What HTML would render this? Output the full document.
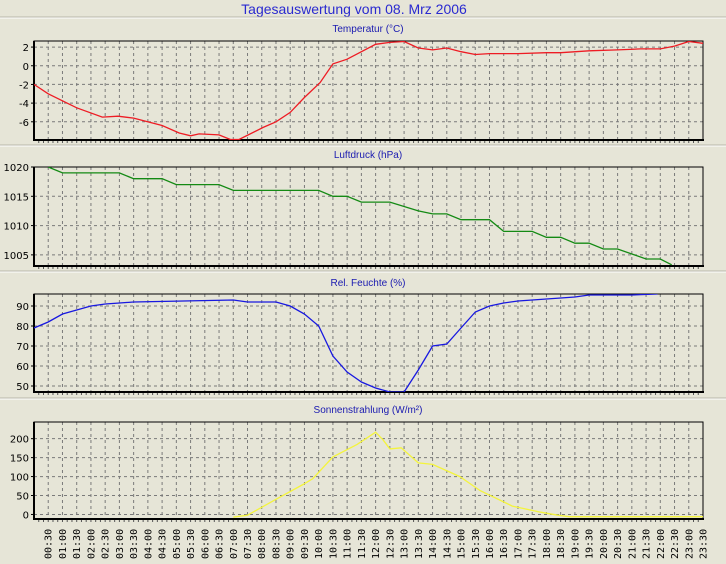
<!DOCTYPE html>
<html><head><meta charset="utf-8"><style>
html,body{margin:0;padding:0;background:#e6e5d7;}
svg{display:block;font-family:"Liberation Sans",sans-serif;}
</style></head><body>
<svg id="chart" width="726" height="564" viewBox="0 0 726 564" xmlns="http://www.w3.org/2000/svg">
<rect x="0" y="0" width="726" height="564" fill="#e6e5d7"/>
<text x="354" y="14" font-size="14" fill="#2a2ad0" text-anchor="middle">Tagesauswertung vom 08. Mrz 2006</text>
</svg>
<script>
// ---- data ----
const tempT = [0,0.5,1.5,2.4,2.95,3.5,4.5,5.1,5.5,5.8,6.5,6.9,7.2,8.05,8.5,9.0,9.5,10.05,10.5,11,12,12.5,13,13.5,14,14.5,15,15.5,16,17,18,18.5,19.5,20.5,21.3,22,22.5,23,23.5];
const tempV = [-2,-3.0,-4.5,-5.5,-5.4,-5.6,-6.4,-7.2,-7.5,-7.3,-7.4,-7.9,-7.9,-6.6,-6.0,-5.0,-3.4,-1.8,0.2,0.7,2.3,2.5,2.6,1.9,1.7,1.9,1.5,1.2,1.3,1.3,1.4,1.4,1.6,1.7,1.8,1.8,2.1,2.6,2.4];
const presT = [0.5,1.0,3.0,3.5,4.5,5.0,6.5,7.0,10.0,10.5,11.0,11.5,12.5,13.5,14.0,14.5,15.0,16.0,16.5,17.5,18.0,18.5,19.0,19.5,20.0,20.5,21.5,22.0,22.4];
const presV = [1020,1019,1019,1018,1018,1017,1017,1016,1016,1015,1015,1014,1014,1012.5,1012,1012,1011,1011,1009,1009,1008,1008,1007,1007,1006,1006,1004.3,1004.3,1003.3];
const humT = [0,0.5,1,1.5,2,2.5,3,3.5,7,7.5,8.5,9,9.5,10,10.5,11,11.5,12,12.5,13,13.5,14,14.5,15,15.5,16,16.5,17,17.5,18,18.5,19,19.5,21,21.9];
const humV = [79,82,86,88,90,91,91.5,92,93,92,92,90,86,80,65,57,52,49,47,47,58,70,71,79,87,90,91.5,92.5,93,93.5,94,94.5,95.5,95.5,96];
const solT = [0,7.0,7.5,8.5,9.45,9.8,10.5,11.35,12.0,12.26,12.5,12.9,13.5,14.0,14.96,15.67,16.8,17.8,18.4,18.8,23.5];
const solV = [null,-7,-2,40,79,95,152,185,217,197,173,176,136,132,100,63,22,6,-2,-6,-6];
const panels = [
 {name:'temperature', title:'Temperatur (°C)', top:41, bottom:140, vTop:2.65, vBot:-7.95, ticks:[2,0,-2,-4,-6], t:tempT, v:tempV, color:'#ee1c24', ty:32},
 {name:'pressure', title:'Luftdruck (hPa)', top:167, bottom:266, vTop:1020, vBot:1003.1, ticks:[1020,1015,1010,1005], t:presT, v:presV, color:'#148a14', ty:158},
 {name:'humidity', title:'Rel. Feuchte (%)', top:294, bottom:392, vTop:96, vBot:47, ticks:[90,80,70,60,50], t:humT, v:humV, color:'#1818e0', ty:286},
 {name:'solar', title:'Sonnenstrahlung (W/m²)', top:422, bottom:519, vTop:244, vBot:-12, ticks:[200,150,100,50,0], t:solT, v:solV, color:'#f4f43c', ty:413}
];
const X0=34, X1=703, TMAX=23.5;
const xs = t => X0 + t/TMAX*(X1-X0);
const NS='http://www.w3.org/2000/svg';
const svg=document.getElementById('chart');
function mk(tag, attrs, parent){const e=document.createElementNS(NS,tag);for(const k in attrs)e.setAttribute(k,attrs[k]);(parent||svg).appendChild(e);return e;}
[17,145,271,398].forEach(y=>{
 const l=mk('line',{x1:0,x2:726,y1:y,y2:y,stroke:'#b8b7a8','stroke-width':1});
 
 
 const l2=mk('line',{x1:0,x2:726,y1:y+1,y2:y+1,stroke:'#ffffff','stroke-width':1});
 
 
});
panels.forEach(p=>{
 const g=mk('g',{});
 
 
 const ys=v=>p.top+(p.vTop-v)/(p.vTop-p.vBot)*(p.bottom-p.top);
 const tt=mk('text',{x:368,y:p.ty,'font-size':10,fill:'#1a1ab0','text-anchor':'middle'},g);
 tt.textContent=p.title;
 
 
 for(let i=1;i<=46;i++){
  const x=xs(i*0.5);
  const gl=mk('line',{x1:x,x2:x,y1:p.top,y2:p.bottom,stroke:'#7a7a7a','stroke-width':1,'stroke-dasharray':'3,3'},g);
  
  
 }
 p.ticks.forEach(v=>{
  const y=ys(v);
  const gl=mk('line',{x1:X0,x2:X1,y1:y,y2:y,stroke:'#7a7a7a','stroke-width':1,'stroke-dasharray':'3,3'},g);
  
  
  const tk=mk('line',{x1:X0-3,x2:X0,y1:y,y2:y,stroke:'#000'},g);
  
  
  const lb=mk('text',{x:X0-5,y:y+4,'font-size':10,fill:'#000','text-anchor':'end','font-family':'"DejaVu Sans",sans-serif'},g);
  lb.textContent=v;
  
  
 });
 for(let i=1;i<141;i++){
  const x=xs(i/6);
  const mt=mk('line',{x1:x,x2:x,y1:p.bottom,y2:p.bottom+3,stroke:'#555','stroke-width':1},g);
  
  
 }
 const fr=mk('rect',{x:X0,y:p.top,width:X1-X0,height:p.bottom-p.top,fill:'none',stroke:'#000','stroke-width':1},g);
 
 
 const ax1=mk('line',{x1:X0,x2:X0,y1:p.top,y2:p.bottom+1,stroke:'#000','stroke-width':2},g);
 
 
 const ax2=mk('line',{x1:X0-1,x2:X1+1,y1:p.bottom,y2:p.bottom,stroke:'#000','stroke-width':2},g);
 
 
 let d='';let started=false;
 p.t.forEach((t,i)=>{
  const v=p.v[i];
  if(v===null){started=false;return;}
  d+=(started?'L':'M')+xs(t).toFixed(1)+','+ys(v).toFixed(1)+' ';started=true;
 });
 const cp=mk('clipPath',{id:'clip-'+p.name},g);
 mk('rect',{x:X0,y:p.top,width:X1-X0,height:p.bottom-p.top},cp);
 const ln=mk('path',{d:d,fill:'none',stroke:p.color,'stroke-width':1.3,'clip-path':'url(#clip-'+p.name+')'},g);
 
 
});
for(let i=1;i<=47;i++){
 const t=i*0.5;
 const h=Math.floor(t), m=(t%1)?'30':'00';
 const lbl=(h<10?'0':'')+h+':'+m;
 const x=xs(t)+3.5;
 const tx=mk('text',{x:x,y:559,'font-size':10,fill:'#000','font-family':'"DejaVu Sans Mono","Liberation Mono",monospace',transform:'rotate(-90 '+x+' 559)'});
 tx.textContent=lbl;
 
 
}
</script>
</body></html>
